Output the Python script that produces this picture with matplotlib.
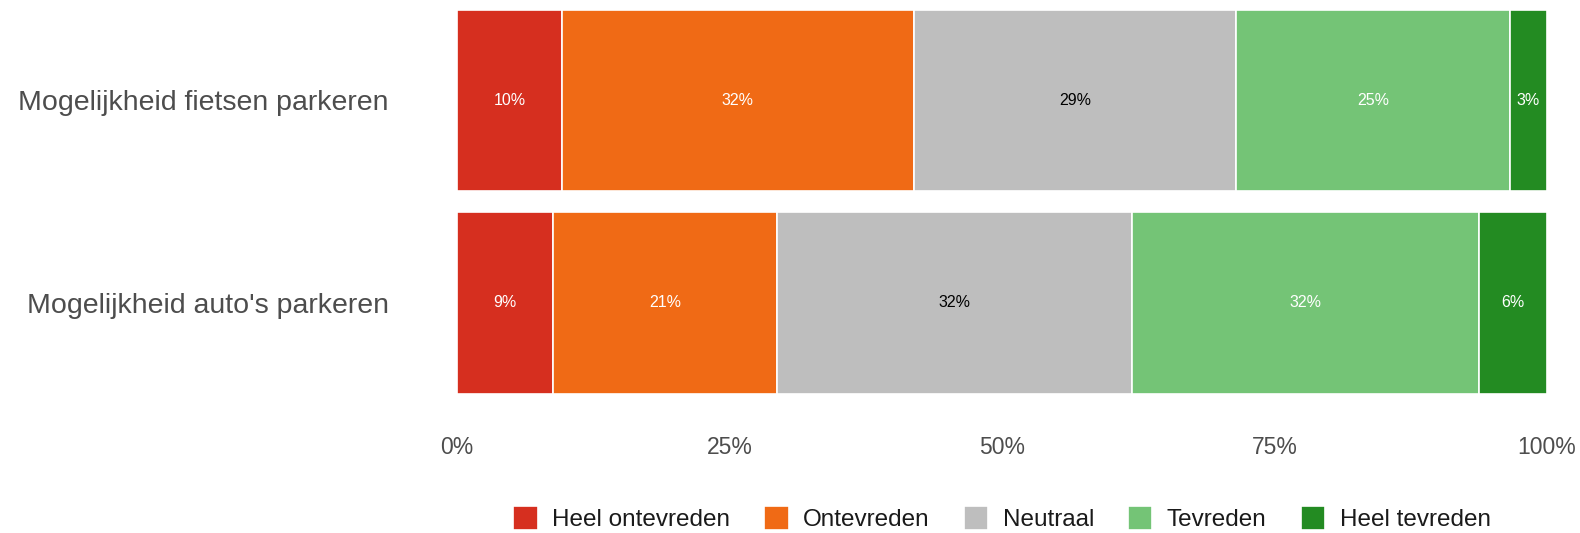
import numpy as np
import matplotlib.pyplot as plt

plt.rcParams['font.family'] = ['Liberation Sans', 'DejaVu Sans']

items = ["Mogelijkheid auto's parkeren", "Mogelijkheid fietsen parkeren"]
levels = ["Heel ontevreden", "Ontevreden", "Neutraal", "Tevreden", "Heel tevreden"]
colors = ["#D62F1F", "#F06A15", "#BEBEBE", "#74C476", "#238B22"]
text_colors = ["white", "white", "black", "white", "white"]

# percentages per level, order: auto's, fietsen
heel_ontevreden = [8.8, 9.6]
ontevreden = [20.6, 32.3]
neutraal = [32.5, 29.6]
tevreden = [31.9, 25.1]
heel_tevreden = [6.2, 3.4]
labels = [["9%", "10%"], ["21%", "32%"], ["32%", "29%"], ["32%", "25%"], ["6%", "3%"]]

data = [heel_ontevreden, ontevreden, neutraal, tevreden, heel_tevreden]

fig = plt.figure(figsize=(15.8, 5.33), dpi=100)
ax = fig.add_axes([457/1580, 133/533, 1090/1580, 400/533])

y = np.arange(len(items))
left = np.zeros(len(items))
for vals, col, tc, lab, name in zip(data, colors, text_colors, labels, levels):
    vals = np.array(vals)
    ax.barh(y, vals, left=left, height=0.894, color=col, edgecolor='white',
            linewidth=1.2, label=name)
    for yi, l, v, t in zip(y, left, vals, lab):
        ax.text(l + v / 2, yi, t, ha='center', va='center', color=tc, fontsize=11.5)
    left = left + vals

ax.set_xlim(0, 100)
ax.set_ylim(-0.479, 1.496)
ax.set_xticks([0, 25, 50, 75, 100])
ax.set_xticklabels(["0%", "25%", "50%", "75%", "100%"])
ax.set_yticks(y)
ax.set_yticklabels(items)
ax.tick_params(axis='x', length=0, labelsize=16.5, labelcolor='#4D4D4D', pad=26)
ax.tick_params(axis='y', length=0, labelsize=20.5, labelcolor='#4D4D4D', pad=49)
for s in ax.spines.values():
    s.set_visible(False)

fig.legend(loc='lower center', bbox_to_anchor=(1002/1580, -0.038), ncol=5, frameon=False,
           fontsize=17.5, handlelength=1.0, handleheight=1.1, handletextpad=0.6,
           columnspacing=1.4, labelcolor='#1A1A1A')

fig.savefig("out.png", dpi=100)
